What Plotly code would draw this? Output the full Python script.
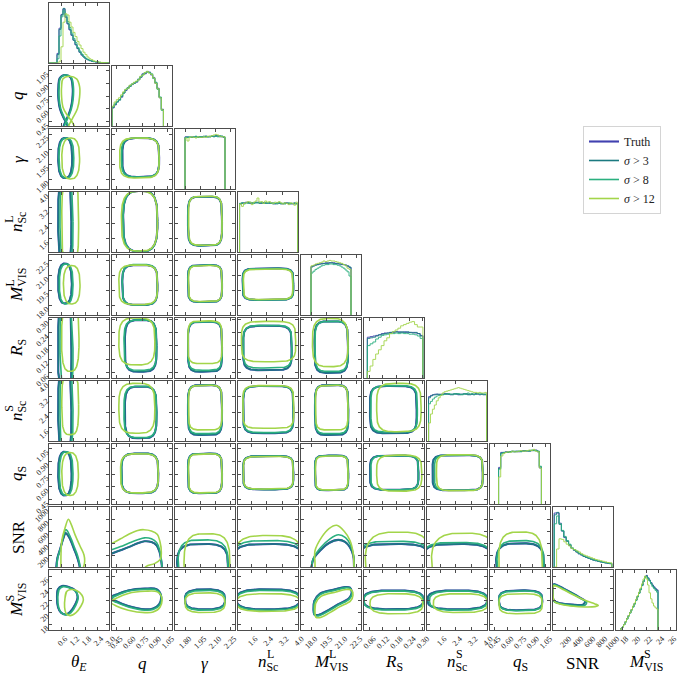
import numpy as np
import plotly.graph_objects as go

# ---------------- data ----------------
VARS = ["thetaE", "q", "gamma", "nL", "ML", "RS", "nS", "qS", "SNR", "MS"]
AXIS_RANGES = [[0.0, 3.0], [0.4, 1.1], [1.7, 2.3], [0.92, 4.02], [17.0, 23.0],
               [0.035, 0.305], [0.92, 4.02], [0.4, 1.1], [0.0, 1000.0], [17.0, 27.0]]
TICK_VALS = [[0.6, 1.2, 1.8, 2.4, 3.0], [0.45, 0.60, 0.75, 0.90, 1.05], [1.80, 1.95, 2.10, 2.25],
             [1.6, 2.4, 3.2, 4.0], [18.0, 19.5, 21.0, 22.5], [0.06, 0.12, 0.18, 0.24, 0.30],
             [1.6, 2.4, 3.2, 4.0], [0.45, 0.60, 0.75, 0.90, 1.05], [200, 400, 600, 800, 1000],
             [18, 20, 22, 24, 26]]
TICK_TEXT = [["0.6", "1.2", "1.8", "2.4", "3.0"], ["0.45", "0.60", "0.75", "0.90", "1.05"],
             ["1.80", "1.95", "2.10", "2.25"], ["1.6", "2.4", "3.2", "4.0"],
             ["18.0", "19.5", "21.0", "22.5"], ["0.06", "0.12", "0.18", "0.24", "0.30"],
             ["1.6", "2.4", "3.2", "4.0"], ["0.45", "0.60", "0.75", "0.90", "1.05"],
             ["200", "400", "600", "800", "1000"], ["18", "20", "22", "24", "26"]]
LABELS = ["<i>θ</i><sub><i>E</i></sub>", "<i>q</i>", "<i>γ</i>", "<i>n</i><sub>Sc</sub>",
          "<i>M</i><sub>VIS</sub>", "<i>R</i><sub>S</sub>", "<i>n</i><sub>Sc</sub>",
          "<i>q</i><sub>S</sub>", "SNR", "<i>M</i><sub>VIS</sub>"]
LABEL_SUPS = [None, None, None, "L", "L", None, "S", None, None, "S"]

SERIES = ["Truth", "<i>σ</i> > 3", "<i>σ</i> > 8", "<i>σ</i> > 12"]

# histogram bins: (first edge, bin width)
HIST_BINS = [(0.0, 0.1), (0.4, 0.025), (1.8, 0.02), (1.0, 0.1), (18.0, 0.2),
             (0.05, 0.0125), (1.0, 0.1), (0.5, 0.025), (20.0, 40.0), (17.75, 0.25)]

# histogram heights (percent of panel height)
HIST_TRUTH = [
    [0, 0, 0, 0, 16, 58, 81, 90, 76, 65, 55, 46, 38, 30, 24, 18, 13, 10, 7, 5.5, 4, 3, 2.3, 1.8, 1.3, 0.9, 0.6, 0.4, 0.3, 0.2],
    [30, 35, 40, 44, 48, 55, 59, 63, 67, 69, 72, 73, 78, 81, 87, 87, 90, 90, 85, 81, 71, 63, 47, 28],
    [87, 86, 86, 87, 86, 87, 87, 86, 87, 87, 88, 87, 87, 88, 88, 88, 89, 87, 88, 86],
    [81, 81, 82, 83, 82, 81, 82, 82, 82, 83, 82, 81, 82, 82, 81, 81, 82, 81, 80, 81, 82, 81, 80, 81, 82, 80, 81, 80, 81, 81],
    [81, 82, 84, 84, 85, 86, 86, 87, 86, 87, 87, 87, 86, 85, 85, 84, 84, 83, 81, 79],
    [68, 69, 70, 71, 72, 74, 75, 75, 76, 76, 77, 77, 76, 77, 76, 76, 76, 75, 74, 71],
    [74, 76, 77, 78, 78, 77, 78, 78, 79, 78, 78, 77, 78, 79, 78, 77, 78, 78, 79, 78, 78, 77, 78, 78, 79, 78, 77, 78, 78, 77],
    [61, 86, 85, 87, 86, 87, 88, 87, 88, 87, 88, 89, 88, 89, 88, 89, 89, 90, 87, 60],
    [90, 90, 73, 60, 49, 43, 36, 31, 28, 25, 22, 20, 17.5, 16, 14.5, 13, 11.5, 10.5, 9.5, 8.5, 7.5, 6.8, 6.2, 5.6],
    [2, 5, 9, 14, 19, 24, 29, 34, 39, 44, 50, 56, 62, 68, 74, 81, 88, 91, 87, 83, 79, 75, 72, 69, 67],
]
HIST_S3 = [
    [0, 0, 0, 0, 14, 56, 80, 91, 77, 66, 56, 47, 38, 31, 24, 18, 14, 10, 7, 5.5, 4, 3.2, 2.3, 1.8, 1.4, 0.9, 0.6, 0.4, 0.3, 0.2],
    [31, 36, 40, 43, 49, 55, 60, 64, 66, 70, 71, 74, 77, 82, 86, 88, 91, 89, 86, 80, 72, 62, 48, 27],
    [86, 87, 86, 86, 87, 87, 86, 87, 86, 88, 87, 87, 88, 88, 87, 89, 88, 88, 87, 87],
    [80, 82, 81, 82, 83, 82, 81, 82, 83, 82, 81, 82, 82, 81, 82, 82, 81, 80, 81, 82, 81, 80, 81, 82, 81, 81, 80, 81, 82, 80],
    [80, 82, 83, 84, 85, 85, 86, 86, 87, 87, 87, 86, 86, 86, 85, 85, 84, 83, 82, 80],
    [66, 67, 68, 70, 72, 73, 74, 75, 76, 77, 77, 76, 77, 76, 77, 76, 75, 76, 74, 70],
    [72, 75, 77, 77, 78, 78, 77, 78, 78, 79, 78, 78, 77, 78, 79, 78, 77, 78, 78, 79, 77, 78, 78, 77, 78, 79, 78, 78, 77, 78],
    [59, 85, 86, 86, 87, 87, 87, 88, 87, 88, 88, 88, 89, 88, 89, 89, 90, 89, 88, 62],
    [87, 91, 71, 60, 50, 43, 37, 31, 28, 25, 22, 20, 17.5, 16, 14.5, 13, 11.5, 10.5, 9.5, 8.5, 7.5, 6.8, 6.2, 5.6],
    [2, 5, 9, 14, 19, 24, 29, 34, 39, 44, 50, 56, 62, 68, 75, 82, 89, 90, 86, 82, 78, 74, 71, 68, 66],
]
HIST_S8 = [
    [0, 0, 0, 0, 7, 45, 77, 87, 80, 69, 59, 50, 41, 34, 26, 20, 15, 11, 8, 6, 4.5, 3.5, 2.5, 2, 1.5, 1, 0.7, 0.5, 0.3, 0.2],
    [32, 37, 41, 44, 50, 55, 61, 63, 67, 70, 72, 74, 78, 82, 85, 89, 90, 89, 87, 79, 73, 61, 48, 26],
    [86, 86, 87, 86, 86, 88, 86, 87, 87, 87, 88, 87, 87, 88, 88, 88, 87, 89, 88, 87],
    [81, 82, 80, 82, 81, 83, 82, 81, 82, 82, 83, 82, 81, 82, 81, 82, 81, 82, 81, 80, 82, 81, 81, 80, 81, 82, 81, 81, 80, 81],
    [70, 73, 76, 78, 80, 82, 83, 84, 84, 85, 85, 84, 84, 83, 82, 80, 78, 75, 72, 65],
    [54, 57, 60, 65, 68, 71, 72, 73, 74, 74, 75, 74, 75, 74, 74, 73, 73, 72, 70, 66],
    [62, 66, 70, 73, 75, 76, 77, 77, 78, 78, 79, 78, 78, 79, 78, 79, 78, 77, 79, 78, 80, 78, 79, 78, 78, 79, 78, 79, 78, 78],
    [58, 84, 86, 86, 86, 87, 88, 87, 88, 88, 87, 88, 89, 89, 88, 90, 89, 89, 88, 63],
    [72, 85, 72, 61, 51, 44, 38, 32, 29, 26, 23, 21, 18.5, 17, 15, 13.5, 12, 11, 10, 9, 8, 7.2, 6.6, 6],
    [2, 5, 9, 13, 18, 23, 28, 33, 38, 43, 49, 55, 61, 67, 74, 81, 87, 89, 86, 82, 77, 72, 69, 66, 63],
]
HIST_S12 = [
    [0, 0, 0, 0, 0, 3, 27, 68, 82, 80, 68, 60, 51, 44, 36, 30, 24, 18, 14, 10, 7, 5.5, 3.6, 2.7, 1.8, 1.4, 0.9, 0.6, 0.4, 0.2],
    [33, 40, 44, 47, 52, 57, 61, 63, 68, 70, 73, 75, 77, 83, 85, 89, 91, 88, 86, 80, 71, 62, 47, 27],
    [85, 80, 86, 87, 86, 85, 87, 86, 86, 87, 86, 88, 87, 89, 90, 91, 90, 88, 87, 87],
    [80, 76, 81, 82, 84, 83, 79, 83, 85, 90, 83, 84, 81, 85, 83, 84, 82, 81, 83, 82, 84, 82, 80, 82, 81, 79, 82, 81, 78, 83],
    [82, 83, 85, 86, 87, 88, 90, 89, 90, 91, 90, 90, 89, 88, 87, 86, 84, 82, 78, 76],
    [11, 20, 31, 40, 47, 54, 62, 67, 74, 77, 80, 83, 87, 89, 91, 93, 94, 89, 85, 85],
    [30, 45, 53, 60, 67, 72, 76, 80, 82, 83, 84, 85, 86, 87, 88, 89, 88, 87, 86, 85, 84, 83, 82, 81, 81, 80, 81, 80, 80, 81],
    [45, 80, 84, 86, 87, 86, 88, 87, 87, 88, 89, 88, 88, 89, 90, 89, 91, 88, 87, 60],
    [0, 30, 47, 46, 42, 38, 35, 31, 29, 27, 25, 22, 20, 18.5, 17, 15.5, 14, 12.5, 11.5, 10.5, 9.5, 8.5, 7.5, 7],
    [2, 5, 9, 14, 19, 24, 29, 34, 40, 45, 51, 57, 63, 70, 77, 85, 90, 85, 75, 62, 52, 45, 40, 37, 35],
]

# contour outlines read as rounded boxes: (row, col): (x_lo, x_hi, y_lo, y_hi, squareness)
BOX_S3 = {
    (2, 0): (0.46, 1.16, 1.81, 2.21, 2.6), (2, 1): (0.52, 0.95, 1.82, 2.21, 4),
    (3, 0): (0.46, 1.12, 0.45, 4.5, 4), (3, 1): (0.53, 0.93, 0.95, 4.08, 3.2), (3, 2): (1.83, 2.17, 1.25, 3.78, 5),
    (4, 0): (0.46, 1.14, 18.15, 22.15, 2.6), (4, 1): (0.52, 0.93, 18.0, 22.0, 4), (4, 2): (1.83, 2.17, 18.3, 22.0, 5),
    (4, 3): (1.16, 3.78, 18.5, 21.67, 5.5),
    (5, 0): (0.46, 1.12, -0.05, 0.37, 4), (5, 1): (0.55, 0.92, 0.063, 0.296, 4), (5, 2): (1.83, 2.17, 0.063, 0.288, 5),
    (5, 3): (1.19, 3.69, 0.07, 0.27, 5), (5, 4): (18.35, 21.7, 0.058, 0.29, 4.5),
    (6, 0): (0.46, 1.12, 0.45, 4.5, 4), (6, 1): (0.55, 0.92, 1.06, 3.73, 4), (6, 2): (1.83, 2.17, 1.23, 3.81, 5),
    (6, 3): (1.19, 3.78, 1.32, 3.76, 5.5), (6, 4): (18.4, 21.73, 1.23, 3.81, 5), (6, 5): (0.062, 0.272, 1.32, 3.76, 5),
    (7, 0): (0.46, 1.13, 0.5, 1.01, 2.6), (7, 1): (0.51, 0.94, 0.525, 0.99, 4), (7, 2): (1.83, 2.17, 0.525, 0.99, 5),
    (7, 3): (1.19, 3.78, 0.57, 0.96, 5.5), (7, 4): (18.4, 21.73, 0.56, 0.965, 5.5), (7, 5): (0.062, 0.28, 0.565, 0.965, 5),
    (7, 6): (1.21, 3.8, 0.56, 0.97, 5.5),
    (8, 2): (1.72, 2.23, -384, 384, 3.5), (8, 3): (0.6, 4.35, -384, 384, 3.5), (8, 5): (0.0, 0.34, -384, 384, 3.5),
    (8, 6): (0.6, 4.35, -384, 384, 3.5), (8, 7): (0.47, 1.03, -395, 395, 3.5),
    (9, 2): (1.8, 2.2, 20.45, 23.78, 3), (9, 3): (0.85, 4.1, 20.45, 23.78, 3), (9, 5): (0.033, 0.302, 20.45, 23.6, 3),
    (9, 6): (0.95, 4.02, 20.45, 23.6, 3), (9, 7): (0.505, 1.01, 20.28, 23.6, 3.5),
}
BOX_S8 = {
    (2, 0): (0.5, 1.24, 1.81, 2.21, 2.6), (2, 1): (0.51, 0.95, 1.82, 2.21, 4),
    (3, 0): (0.55, 1.2, 0.45, 4.5, 4), (3, 1): (0.53, 0.93, 0.95, 4.08, 3.2), (3, 2): (1.83, 2.17, 1.25, 3.79, 5),
    (4, 0): (0.52, 1.2, 18.1, 22.1, 2.6), (4, 1): (0.52, 0.93, 18.0, 22.05, 4), (4, 2): (1.83, 2.17, 18.3, 22.0, 5),
    (4, 3): (1.17, 3.78, 18.5, 21.65, 5.5),
    (5, 0): (0.55, 1.2, -0.03, 0.37, 4), (5, 1): (0.54, 0.92, 0.07, 0.296, 4), (5, 2): (1.83, 2.17, 0.07, 0.288, 5),
    (5, 3): (1.2, 3.7, 0.08, 0.272, 5), (5, 4): (18.4, 21.7, 0.065, 0.29, 4.5),
    (6, 0): (0.55, 1.2, 0.6, 4.5, 4), (6, 1): (0.54, 0.92, 1.1, 3.75, 4), (6, 2): (1.83, 2.17, 1.3, 3.81, 5),
    (6, 3): (1.19, 3.78, 1.36, 3.76, 5.5), (6, 4): (18.4, 21.73, 1.3, 3.81, 5), (6, 5): (0.066, 0.275, 1.38, 3.78, 5),
    (7, 0): (0.52, 1.2, 0.5, 1.01, 2.6), (7, 1): (0.51, 0.94, 0.525, 0.99, 4), (7, 2): (1.83, 2.17, 0.525, 0.99, 5),
    (7, 3): (1.19, 3.78, 0.57, 0.96, 5.5), (7, 4): (18.4, 21.73, 0.56, 0.965, 5.5), (7, 5): (0.066, 0.28, 0.565, 0.965, 5),
    (7, 6): (1.31, 3.8, 0.56, 0.97, 5.5),
    (8, 2): (1.73, 2.23, -452, 452, 3.5), (8, 3): (0.6, 4.35, -440, 440, 3.5), (8, 5): (0.0, 0.34, -429, 429, 3.5),
    (8, 6): (0.6, 4.35, -410, 410, 3.5), (8, 7): (0.48, 1.03, -440, 440, 3.5),
    (9, 2): (1.8, 2.2, 20.3, 23.6, 3), (9, 3): (0.85, 4.1, 20.3, 23.6, 3), (9, 5): (0.035, 0.302, 20.3, 23.5, 3),
    (9, 6): (1.05, 4.02, 20.3, 23.5, 3), (9, 7): (0.505, 1.01, 20.2, 23.5, 3.5),
}
BOX_S12 = {
    (2, 0): (0.64, 1.53, 1.80, 2.21, 2.6), (2, 1): (0.49, 0.95, 1.81, 2.21, 4),
    (3, 0): (0.64, 1.48, 0.45, 4.5, 4), (3, 1): (0.51, 0.93, 0.97, 4.06, 3.2), (3, 2): (1.835, 2.17, 1.27, 3.8, 5),
    (4, 0): (0.72, 1.55, 18.1, 21.95, 2.6), (4, 1): (0.48, 0.93, 18.05, 22.0, 4), (4, 2): (1.835, 2.17, 18.35, 21.95, 5),
    (4, 3): (1.2, 3.75, 18.55, 21.6, 5.5),
    (5, 0): (0.63, 1.5, 0.065, 0.36, 3), (5, 1): (0.48, 0.9, 0.094, 0.305, 3.5), (5, 2): (1.83, 2.17, 0.10, 0.292, 5),
    (5, 3): (1.1, 3.9, 0.108, 0.29, 4.5), (5, 4): (18.15, 21.7, 0.086, 0.303, 3.5),
    (6, 0): (0.64, 1.48, 1.25, 4.4, 3.5), (6, 1): (0.48, 0.9, 1.32, 3.9, 3.5), (6, 2): (1.835, 2.17, 1.49, 3.8, 5),
    (6, 3): (1.17, 3.8, 1.58, 3.78, 5.5), (6, 4): (18.45, 21.7, 1.49, 3.8, 5), (6, 5): (0.092, 0.292, 1.4, 3.9, 4),
    (7, 0): (0.64, 1.47, 0.5, 1.0, 2.6), (7, 1): (0.5, 0.94, 0.53, 0.985, 4), (7, 2): (1.835, 2.17, 0.53, 0.985, 5),
    (7, 3): (1.2, 3.77, 0.575, 0.955, 5.5), (7, 4): (18.45, 21.7, 0.565, 0.96, 5.5), (7, 5): (0.092, 0.295, 0.55, 0.97, 4),
    (7, 6): (1.41, 3.8, 0.555, 0.975, 5),
    (8, 2): (1.79, 2.25, -600, 554, 3.5), (8, 3): (0.7, 4.3, -560, 525, 3.5), (8, 5): (0.04, 0.34, -540, 582, 3.2),
    (8, 6): (1.15, 4.5, -420, 565, 3), (8, 7): (0.5, 1.01, -560, 582, 3.5),
    (9, 2): (1.8, 2.2, 19.9, 23.2, 3), (9, 3): (0.85, 4.1, 20.1, 23.05, 3), (9, 5): (0.062, 0.3, 19.7, 23.05, 3),
    (9, 6): (1.25, 4.05, 19.9, 23.05, 3), (9, 7): (0.505, 1.01, 19.7, 23.05, 3.5),
}

# contour outlines read point by point (data coordinates): (row, col): (closed, [(x, y), ...])
PTS_S3 = {
    (1, 0): (False, [(1.0, 0.36), (0.88, 0.43), (0.72, 0.5), (0.55, 0.6), (0.47, 0.72), (0.47, 0.86), (0.53, 0.955),
                     (0.8, 0.995), (1.08, 0.965), (1.18, 0.86), (1.17, 0.72), (1.08, 0.6), (0.92, 0.5), (0.78, 0.43), (0.68, 0.36)]),
    (8, 0): (False, [(0.36, -30), (0.42, 150), (0.55, 290), (0.72, 480), (0.83, 565), (0.92, 540), (1.1, 430),
                     (1.25, 300), (1.38, 190), (1.5, 60), (1.55, -30)]),
    (8, 1): (False, [(0.35, 200), (0.4, 226), (0.5, 280), (0.6, 335), (0.7, 395), (0.78, 429), (0.86, 415),
                     (0.92, 360), (0.955, 250), (0.975, 100), (0.985, -40)]),
    (8, 4): (False, [(18.0, -40), (18.07, 17), (18.23, 130), (18.9, 271), (19.8, 400), (20.73, 452), (21.4, 420),
                     (21.9, 327), (22.23, 186), (22.3, 17), (22.32, -40)]),
    (9, 0): (True, [(0.4, 22.5), (0.45, 23.8), (0.65, 24.35), (0.95, 24.2), (1.3, 23.6), (1.43, 22.5), (1.3, 21.2),
                    (1.05, 20.0), (0.85, 19.6), (0.6, 19.9), (0.45, 20.8)]),
    (9, 1): (True, [(0.38, 22.4), (0.45, 22.9), (0.59, 23.6), (0.785, 23.9), (0.92, 23.8), (0.97, 22.8), (0.95, 21.3),
                    (0.88, 20.6), (0.785, 20.45), (0.59, 21.0), (0.45, 21.8)]),
    (9, 4): (True, [(18.25, 20.5), (18.33, 21.83), (18.9, 23.06), (20.4, 23.78), (21.4, 24.17), (21.9, 24.06),
                    (22.07, 23.2), (21.8, 22.3), (20.73, 21.3), (19.73, 20.3), (18.73, 19.5), (18.33, 19.6)]),
    (9, 8): (True, [(12, 24.6), (60, 24.5), (180, 23.9), (311, 23.2), (450, 22.4), (533, 21.85), (510, 21.3),
                    (478, 21.17), (256, 21.28), (89, 21.55), (15, 21.9)]),
}
PTS_S8 = {
    (1, 0): (False, [(1.04, 0.36), (0.92, 0.43), (0.76, 0.5), (0.59, 0.6), (0.51, 0.72), (0.51, 0.86), (0.57, 0.955),
                     (0.84, 0.995), (1.12, 0.965), (1.22, 0.86), (1.21, 0.72), (1.12, 0.6), (0.96, 0.5), (0.82, 0.43), (0.72, 0.36)]),
    (8, 0): (False, [(0.38, -30), (0.44, 150), (0.57, 300), (0.73, 520), (0.84, 625), (0.94, 590), (1.12, 460),
                     (1.28, 320), (1.42, 200), (1.53, 60), (1.58, -30)]),
    (8, 1): (False, [(0.35, 265), (0.4, 290), (0.5, 340), (0.6, 400), (0.7, 455), (0.78, 486), (0.86, 470),
                     (0.92, 410), (0.955, 290), (0.975, 120), (0.985, -40)]),
    (8, 4): (False, [(17.95, -40), (18.05, 17), (18.25, 150), (18.95, 320), (19.9, 470), (20.75, 537), (21.45, 490),
                     (21.95, 370), (22.25, 200), (22.32, 17), (22.35, -40)]),
    (9, 0): (True, [(0.44, 22.5), (0.5, 23.7), (0.7, 24.2), (1.0, 24.05), (1.32, 23.5), (1.46, 22.4), (1.34, 21.1),
                    (1.1, 19.9), (0.88, 19.5), (0.64, 19.8), (0.49, 20.7)]),
    (9, 1): (True, [(0.38, 22.2), (0.45, 22.7), (0.59, 23.45), (0.785, 23.75), (0.92, 23.65), (0.975, 22.7), (0.955, 21.1),
                    (0.88, 20.4), (0.785, 20.3), (0.59, 20.85), (0.45, 21.6)]),
    (9, 4): (True, [(18.27, 20.35), (18.36, 21.68), (18.93, 22.91), (20.43, 23.63), (21.43, 24.02), (21.93, 23.91),
                    (22.1, 23.05), (21.83, 22.15), (20.76, 21.15), (19.76, 20.15), (18.76, 19.35), (18.36, 19.45)]),
    (9, 8): (True, [(12, 24.5), (60, 24.4), (180, 23.8), (311, 23.1), (460, 22.25), (560, 21.65), (530, 21.1),
                    (480, 21.0), (256, 21.15), (89, 21.45), (15, 21.8)]),
}
PTS_S12 = {
    (1, 0): (False, [(1.35, 0.36), (1.15, 0.45), (0.9, 0.53), (0.7, 0.62), (0.63, 0.74), (0.63, 0.86), (0.7, 0.95),
                     (1.0, 0.98), (1.38, 0.95), (1.53, 0.86), (1.53, 0.74), (1.42, 0.6), (1.2, 0.5), (1.02, 0.42), (0.92, 0.36)]),
    (8, 0): (False, [(0.6, -30), (0.6, 220), (0.64, 440), (0.8, 650), (0.97, 797), (1.1, 720), (1.3, 540),
                     (1.55, 350), (1.75, 200), (1.78, 80), (1.7, -30)]),
    (8, 1): (False, [(0.35, 370), (0.4, 395), (0.5, 470), (0.6, 550), (0.7, 610), (0.77, 622), (0.86, 600),
                     (0.93, 540), (0.96, 420), (0.975, 260), (0.965, 130), (0.9, 60), (0.8, 10), (0.77, -40)]),
    (8, 4): (False, [(18.4, -40), (18.4, 73), (18.4, 271), (19.07, 497), (19.8, 640), (20.57, 695), (21.3, 600),
                     (21.9, 441), (22.23, 220), (22.3, 17), (22.32, -40)]),
    (9, 0): (True, [(0.8, 22.3), (0.88, 23.4), (1.1, 23.75), (1.4, 23.55), (1.65, 22.8), (1.72, 22.0), (1.6, 21.0),
                    (1.35, 19.9), (1.05, 19.4), (0.85, 19.8), (0.78, 20.8)]),
    (9, 1): (True, [(0.38, 21.7), (0.45, 22.3), (0.59, 23.1), (0.785, 23.45), (0.93, 23.35), (0.98, 22.4), (0.96, 20.8),
                    (0.88, 20.0), (0.785, 19.9), (0.59, 20.3), (0.45, 21.0)]),
    (9, 4): (True, [(18.4, 20.0), (18.45, 21.4), (19.0, 22.6), (20.5, 23.35), (21.5, 23.75), (22.05, 23.65),
                    (22.2, 22.8), (21.95, 21.85), (20.85, 20.85), (19.85, 19.85), (18.85, 19.05), (18.48, 19.15)]),
    (9, 8): (True, [(12, 24.4), (60, 24.3), (180, 23.7), (311, 23.0), (533, 21.95), (700, 21.35), (755, 21.1),
                    (700, 20.9), (533, 20.83), (300, 21.0), (144, 21.25), (40, 21.6), (12, 22.0)]),
}

# ---------------- styling ----------------
COLORS = ["#4141b0", "#1b7a80", "#2bb07f", "#a3d54a"]
SERIF = "Liberation Serif"
W = H = 679
N = 10
LEFT, TOP, PANEL, GAP = 49, 3, 60, 3
AXCOL = "#4d4d4d"


def col_px(j):
    return LEFT + j * (PANEL + GAP)


def row_px(i):
    return TOP + i * (PANEL + GAP)


def superellipse(spec, n=180):
    x0, x1, y0, y1, p = spec
    t = np.linspace(0, 2 * np.pi, n)
    c, s = np.cos(t), np.sin(t)
    x = (x0 + x1) / 2 + (x1 - x0) / 2 * np.sign(c) * np.abs(c) ** (2 / p)
    y = (y0 + y1) / 2 + (y1 - y0) / 2 * np.sign(s) * np.abs(s) ** (2 / p)
    return x, y


fig = go.Figure()
layout = {}
axis_id = {}
k = 0
for i in range(N):
    for j in range(i + 1):
        k += 1
        axis_id[(i, j)] = k
        sfx = "" if k == 1 else str(k)
        x0p, y0p = col_px(j), row_px(i)
        common = dict(showgrid=False, zeroline=False, showline=True, linecolor=AXCOL, linewidth=1,
                      mirror="ticks", ticks="inside", ticklen=3, tickwidth=1, tickcolor=AXCOL,
                      tickangle=-45, tickfont=dict(family=SERIF, size=8, color="#222"), fixedrange=True,
                      automargin=False)
        layout["xaxis" + sfx] = dict(common, domain=[x0p / W, (x0p + PANEL) / W], anchor="y" + sfx,
                                     range=AXIS_RANGES[j], tickvals=TICK_VALS[j], ticktext=TICK_TEXT[j],
                                     showticklabels=(i == N - 1), ticklabelshift=4)
        if i == j:
            layout["yaxis" + sfx] = dict(common, domain=[1 - (y0p + PANEL) / H, 1 - y0p / H], anchor="x" + sfx,
                                         range=[0, 100], ticks="", showticklabels=False, mirror=True)
        else:
            layout["yaxis" + sfx] = dict(common, domain=[1 - (y0p + PANEL) / H, 1 - y0p / H], anchor="x" + sfx,
                                         range=AXIS_RANGES[i], tickvals=TICK_VALS[i], ticktext=TICK_TEXT[i],
                                         showticklabels=(j == 0), ticklabelshift=3)

HISTS = [HIST_TRUTH, HIST_S3, HIST_S8, HIST_S12]
BOXES = [BOX_S3, BOX_S3, BOX_S8, BOX_S12]
PTS = [PTS_S3, PTS_S3, PTS_S8, PTS_S12]
WIDTHS = [2.1, 1.6, 1.6, 1.6]

# diagonal histograms
for v in range(N):
    k = axis_id[(v, v)]
    sfx = "" if k == 1 else str(k)
    start, width = HIST_BINS[v]
    for s in range(4):
        vals = HISTS[s][v]
        edges = start + width * np.arange(len(vals) + 1)
        xs = [edges[0]] + list(edges[:-1]) + [edges[-1]]
        ys = [0] + list(vals) + [0]
        fig.add_trace(go.Scatter(x=xs, y=ys, mode="lines", line=dict(color=COLORS[s], width=1, shape="hv"),
                                 opacity=0.9, xaxis="x" + sfx, yaxis="y" + sfx, showlegend=False,
                                 hoverinfo="skip"))

# off-diagonal contours
for i in range(N):
    for j in range(i):
        k = axis_id[(i, j)]
        sfx = "" if k == 1 else str(k)
        for s in range(4):
            if (i, j) in BOXES[s]:
                x, y = superellipse(BOXES[s][(i, j)])
                shape = "linear"
            else:
                closed, pts = PTS[s][(i, j)]
                if closed:
                    pts = list(pts) + [pts[0], pts[1]]
                x = [p[0] for p in pts]
                y = [p[1] for p in pts]
                shape = "spline"
            first = (i, j) == (1, 0)
            fig.add_trace(go.Scatter(x=x, y=y, mode="lines",
                                     line=dict(color=COLORS[s], width=WIDTHS[s], shape=shape, smoothing=1.0),
                                     xaxis="x" + sfx, yaxis="y" + sfx, name=SERIES[s],
                                     showlegend=first, legendrank=s + 1, hoverinfo="skip"))

# axis labels (superscripts stacked over the subscript with separate small texts)
ann = []
BASE_W = {"n": 8.5, "M": 14.2}
SUB_W = {"Sc": 11.9, "VIS": 19.2}


def sub_start(lbl):
    base = "n" if "<i>n</i>" in lbl else "M"
    sub = "Sc" if "Sc" in lbl else "VIS"
    total = BASE_W[base] + SUB_W[sub]
    return -total / 2 + BASE_W[base]


XLAB_Y = 663
YLAB_X = 18
for j in range(N):
    cx = col_px(j) + PANEL / 2
    ann.append(dict(x=cx / W, y=1 - XLAB_Y / H, xref="paper", yref="paper", text=LABELS[j], showarrow=False,
                    xanchor="center", yanchor="middle", font=dict(family=SERIF, size=17, color="black")))
    if LABEL_SUPS[j]:
        sx = cx + sub_start(LABELS[j]) + 4
        sy = XLAB_Y - 9
        ann.append(dict(x=sx / W, y=1 - sy / H, xref="paper", yref="paper", text=LABEL_SUPS[j],
                        showarrow=False, xanchor="center", yanchor="middle",
                        font=dict(family=SERIF, size=12, color="black")))
for i in range(1, N):
    cy = row_px(i) + PANEL / 2
    ann.append(dict(x=YLAB_X / W, y=1 - cy / H, xref="paper", yref="paper", text=LABELS[i], showarrow=False,
                    textangle=-90, xanchor="center", yanchor="middle",
                    font=dict(family=SERIF, size=17, color="black")))
    if LABEL_SUPS[i]:
        sy = cy - sub_start(LABELS[i]) - 4
        sx = YLAB_X - 9
        ann.append(dict(x=sx / W, y=1 - sy / H, xref="paper", yref="paper", text=LABEL_SUPS[i],
                        showarrow=False, textangle=-90, xanchor="center", yanchor="middle",
                        font=dict(family=SERIF, size=12, color="black")))

fig.update_layout(
    width=W, height=H, margin=dict(l=0, r=0, t=0, b=0, autoexpand=False),
    paper_bgcolor="white", plot_bgcolor="white",
    annotations=ann,
    legend=dict(x=583 / W, y=1 - 126 / H, xanchor="left", yanchor="top", bgcolor="white",
                bordercolor="#d4d4d4", borderwidth=1, font=dict(family=SERIF, size=12, color="#222"),
                itemwidth=30, tracegroupgap=2),
    **layout,
)
fig.write_html("out.html", config={"displayModeBar": False},
               post_script="document.body.style.margin='0px';document.body.style.overflow='hidden';")
